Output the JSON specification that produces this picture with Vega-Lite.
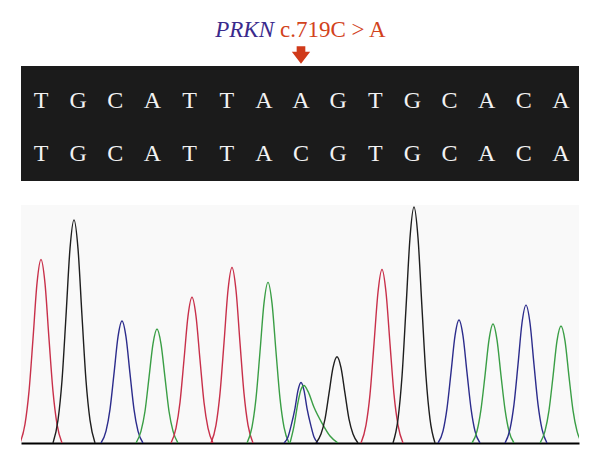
{
  "$schema": "https://vega.github.io/schema/vega-lite/v6.json",
  "padding": {"left": 21, "top": 19, "right": 21, "bottom": 10},
  "background": "white",
  "spacing": 24,
  "datasets": {
    "seq": [
      {"pos":1,"row":1,"base":"T"},{"pos":2,"row":1,"base":"G"},{"pos":3,"row":1,"base":"C"},{"pos":4,"row":1,"base":"A"},{"pos":5,"row":1,"base":"T"},{"pos":6,"row":1,"base":"T"},{"pos":7,"row":1,"base":"A"},{"pos":8,"row":1,"base":"A"},{"pos":9,"row":1,"base":"G"},{"pos":10,"row":1,"base":"T"},{"pos":11,"row":1,"base":"G"},{"pos":12,"row":1,"base":"C"},{"pos":13,"row":1,"base":"A"},{"pos":14,"row":1,"base":"C"},{"pos":15,"row":1,"base":"A"},
      {"pos":1,"row":2,"base":"T"},{"pos":2,"row":2,"base":"G"},{"pos":3,"row":2,"base":"C"},{"pos":4,"row":2,"base":"A"},{"pos":5,"row":2,"base":"T"},{"pos":6,"row":2,"base":"T"},{"pos":7,"row":2,"base":"A"},{"pos":8,"row":2,"base":"C"},{"pos":9,"row":2,"base":"G"},{"pos":10,"row":2,"base":"T"},{"pos":11,"row":2,"base":"G"},{"pos":12,"row":2,"base":"C"},{"pos":13,"row":2,"base":"A"},{"pos":14,"row":2,"base":"C"},{"pos":15,"row":2,"base":"A"}
    ],
    "trace": [
      {"peak":1,"base":"T","scan":-1,"signal":0},{"peak":1,"base":"T","scan":4,"signal":19},{"peak":1,"base":"T","scan":8,"signal":52},{"peak":1,"base":"T","scan":12,"signal":105},{"peak":1,"base":"T","scan":16,"signal":161},{"peak":1,"base":"T","scan":20,"signal":185},{"peak":1,"base":"T","scan":24,"signal":161},{"peak":1,"base":"T","scan":28,"signal":105},{"peak":1,"base":"T","scan":32,"signal":52},{"peak":1,"base":"T","scan":36,"signal":19},{"peak":1,"base":"T","scan":41,"signal":0},
      {"peak":2,"base":"G","scan":32,"signal":0},{"peak":2,"base":"G","scan":37,"signal":23},{"peak":2,"base":"G","scan":41,"signal":63},{"peak":2,"base":"G","scan":45,"signal":128},{"peak":2,"base":"G","scan":49,"signal":196},{"peak":2,"base":"G","scan":53,"signal":225},{"peak":2,"base":"G","scan":57,"signal":196},{"peak":2,"base":"G","scan":61,"signal":128},{"peak":2,"base":"G","scan":65,"signal":63},{"peak":2,"base":"G","scan":69,"signal":23},{"peak":2,"base":"G","scan":74,"signal":0},
      {"peak":3,"base":"C","scan":80,"signal":0},{"peak":3,"base":"C","scan":85,"signal":12},{"peak":3,"base":"C","scan":89,"signal":34},{"peak":3,"base":"C","scan":93,"signal":70},{"peak":3,"base":"C","scan":97,"signal":107},{"peak":3,"base":"C","scan":101,"signal":123},{"peak":3,"base":"C","scan":105,"signal":107},{"peak":3,"base":"C","scan":109,"signal":70},{"peak":3,"base":"C","scan":113,"signal":34},{"peak":3,"base":"C","scan":117,"signal":12},{"peak":3,"base":"C","scan":122,"signal":0},
      {"peak":4,"base":"A","scan":115,"signal":0},{"peak":4,"base":"A","scan":120,"signal":12},{"peak":4,"base":"A","scan":124,"signal":32},{"peak":4,"base":"A","scan":128,"signal":66},{"peak":4,"base":"A","scan":132,"signal":100},{"peak":4,"base":"A","scan":136,"signal":115},{"peak":4,"base":"A","scan":140,"signal":100},{"peak":4,"base":"A","scan":144,"signal":66},{"peak":4,"base":"A","scan":148,"signal":32},{"peak":4,"base":"A","scan":152,"signal":12},{"peak":4,"base":"A","scan":157,"signal":0},
      {"peak":5,"base":"T","scan":150,"signal":0},{"peak":5,"base":"T","scan":155,"signal":15},{"peak":5,"base":"T","scan":159,"signal":41},{"peak":5,"base":"T","scan":163,"signal":84},{"peak":5,"base":"T","scan":167,"signal":128},{"peak":5,"base":"T","scan":171,"signal":147},{"peak":5,"base":"T","scan":175,"signal":128},{"peak":5,"base":"T","scan":179,"signal":84},{"peak":5,"base":"T","scan":183,"signal":41},{"peak":5,"base":"T","scan":187,"signal":15},{"peak":5,"base":"T","scan":192,"signal":0},
      {"peak":6,"base":"T","scan":190,"signal":0},{"peak":6,"base":"T","scan":195,"signal":18},{"peak":6,"base":"T","scan":199,"signal":50},{"peak":6,"base":"T","scan":203,"signal":101},{"peak":6,"base":"T","scan":207,"signal":154},{"peak":6,"base":"T","scan":211,"signal":177},{"peak":6,"base":"T","scan":215,"signal":154},{"peak":6,"base":"T","scan":219,"signal":101},{"peak":6,"base":"T","scan":223,"signal":50},{"peak":6,"base":"T","scan":227,"signal":18},{"peak":6,"base":"T","scan":232,"signal":0},
      {"peak":7,"base":"A","scan":226,"signal":0},{"peak":7,"base":"A","scan":231,"signal":16},{"peak":7,"base":"A","scan":235,"signal":45},{"peak":7,"base":"A","scan":239,"signal":92},{"peak":7,"base":"A","scan":243,"signal":141},{"peak":7,"base":"A","scan":247,"signal":162},{"peak":7,"base":"A","scan":251,"signal":141},{"peak":7,"base":"A","scan":255,"signal":92},{"peak":7,"base":"A","scan":259,"signal":45},{"peak":7,"base":"A","scan":263,"signal":16},{"peak":7,"base":"A","scan":268,"signal":0},
      {"peak":8,"base":"C","scan":263,"signal":0},{"peak":8,"base":"C","scan":267,"signal":6},{"peak":8,"base":"C","scan":270,"signal":17},{"peak":8,"base":"C","scan":274,"signal":35},{"peak":8,"base":"C","scan":277,"signal":53},{"peak":8,"base":"C","scan":280,"signal":61},{"peak":8,"base":"C","scan":283,"signal":53},{"peak":8,"base":"C","scan":286,"signal":35},{"peak":8,"base":"C","scan":290,"signal":17},{"peak":8,"base":"C","scan":293,"signal":6},{"peak":8,"base":"C","scan":297,"signal":0},
      {"peak":9,"base":"A","scan":269,"signal":0},{"peak":9,"base":"A","scan":273,"signal":17},{"peak":9,"base":"A","scan":277,"signal":41},{"peak":9,"base":"A","scan":280,"signal":54},{"peak":9,"base":"A","scan":283,"signal":58},{"peak":9,"base":"A","scan":287,"signal":52},{"peak":9,"base":"A","scan":293,"signal":36},{"peak":9,"base":"A","scan":301,"signal":20},{"peak":9,"base":"A","scan":309,"signal":7},{"peak":9,"base":"A","scan":317,"signal":0},
      {"peak":10,"base":"G","scan":295,"signal":0},{"peak":10,"base":"G","scan":300,"signal":9},{"peak":10,"base":"G","scan":304,"signal":24},{"peak":10,"base":"G","scan":308,"signal":50},{"peak":10,"base":"G","scan":312,"signal":76},{"peak":10,"base":"G","scan":316,"signal":87},{"peak":10,"base":"G","scan":320,"signal":76},{"peak":10,"base":"G","scan":324,"signal":50},{"peak":10,"base":"G","scan":328,"signal":24},{"peak":10,"base":"G","scan":332,"signal":9},{"peak":10,"base":"G","scan":337,"signal":0},
      {"peak":11,"base":"T","scan":340,"signal":0},{"peak":11,"base":"T","scan":345,"signal":18},{"peak":11,"base":"T","scan":349,"signal":49},{"peak":11,"base":"T","scan":353,"signal":100},{"peak":11,"base":"T","scan":357,"signal":152},{"peak":11,"base":"T","scan":361,"signal":175},{"peak":11,"base":"T","scan":365,"signal":152},{"peak":11,"base":"T","scan":369,"signal":100},{"peak":11,"base":"T","scan":373,"signal":49},{"peak":11,"base":"T","scan":377,"signal":18},{"peak":11,"base":"T","scan":382,"signal":0},
      {"peak":12,"base":"G","scan":372,"signal":0},{"peak":12,"base":"G","scan":377,"signal":24},{"peak":12,"base":"G","scan":381,"signal":67},{"peak":12,"base":"G","scan":385,"signal":136},{"peak":12,"base":"G","scan":389,"signal":207},{"peak":12,"base":"G","scan":393,"signal":238},{"peak":12,"base":"G","scan":397,"signal":207},{"peak":12,"base":"G","scan":401,"signal":136},{"peak":12,"base":"G","scan":405,"signal":67},{"peak":12,"base":"G","scan":409,"signal":24},{"peak":12,"base":"G","scan":414,"signal":0},
      {"peak":13,"base":"C","scan":417,"signal":0},{"peak":13,"base":"C","scan":422,"signal":12},{"peak":13,"base":"C","scan":426,"signal":35},{"peak":13,"base":"C","scan":430,"signal":71},{"peak":13,"base":"C","scan":434,"signal":108},{"peak":13,"base":"C","scan":438,"signal":124},{"peak":13,"base":"C","scan":442,"signal":108},{"peak":13,"base":"C","scan":446,"signal":71},{"peak":13,"base":"C","scan":450,"signal":35},{"peak":13,"base":"C","scan":454,"signal":12},{"peak":13,"base":"C","scan":459,"signal":0},
      {"peak":14,"base":"A","scan":451,"signal":0},{"peak":14,"base":"A","scan":456,"signal":12},{"peak":14,"base":"A","scan":460,"signal":34},{"peak":14,"base":"A","scan":464,"signal":68},{"peak":14,"base":"A","scan":468,"signal":104},{"peak":14,"base":"A","scan":472,"signal":120},{"peak":14,"base":"A","scan":476,"signal":104},{"peak":14,"base":"A","scan":480,"signal":68},{"peak":14,"base":"A","scan":484,"signal":34},{"peak":14,"base":"A","scan":488,"signal":12},{"peak":14,"base":"A","scan":493,"signal":0},
      {"peak":15,"base":"C","scan":484,"signal":0},{"peak":15,"base":"C","scan":489,"signal":14},{"peak":15,"base":"C","scan":493,"signal":39},{"peak":15,"base":"C","scan":497,"signal":79},{"peak":15,"base":"C","scan":501,"signal":121},{"peak":15,"base":"C","scan":505,"signal":139},{"peak":15,"base":"C","scan":509,"signal":121},{"peak":15,"base":"C","scan":513,"signal":79},{"peak":15,"base":"C","scan":517,"signal":39},{"peak":15,"base":"C","scan":521,"signal":14},{"peak":15,"base":"C","scan":526,"signal":0},
      {"peak":16,"base":"A","scan":519,"signal":0},{"peak":16,"base":"A","scan":524,"signal":12},{"peak":16,"base":"A","scan":528,"signal":33},{"peak":16,"base":"A","scan":532,"signal":67},{"peak":16,"base":"A","scan":536,"signal":103},{"peak":16,"base":"A","scan":540,"signal":118},{"peak":16,"base":"A","scan":544,"signal":103},{"peak":16,"base":"A","scan":548,"signal":67},{"peak":16,"base":"A","scan":552,"signal":33},{"peak":16,"base":"A","scan":556,"signal":12},{"peak":16,"base":"A","scan":561,"signal":0}
    ]
  },
  "vconcat": [
    {
      "width": 558,
      "height": 115,
      "view": {"fill": "#1b1b1b", "stroke": null},
      "layer": [
        {
          "data": {"name": "seq"},
          "mark": {"type": "text", "font": "Liberation Serif", "fontSize": 24, "fill": "#f2f2f2", "baseline": "middle", "align": "center"},
          "encoding": {
            "x": {"field": "pos", "type": "quantitative", "scale": {"domain": [0.4615, 15.485]}, "axis": null},
            "y": {"field": "row", "type": "quantitative", "scale": {"domain": [0.355, 2.505], "reverse": true}, "axis": null},
            "text": {"field": "base"}
          }
        },
        {
          "data": {"values": [{"pos": 8, "change": "C>A"}]},
          "mark": {"type": "point", "shape": "M-0.5,-1L0.5,-1L0.5,-0.375L1.06,-0.375L0,1L-1.06,-0.375L-0.5,-0.375Z", "size": 300, "filled": true, "fill": "#d03a1a", "stroke": null, "opacity": 1},
          "encoding": {
            "x": {"field": "pos", "type": "quantitative", "scale": {"domain": [0.4615, 15.485]}, "axis": null},
            "y": {"datum": 0.149, "type": "quantitative", "scale": {"domain": [0.355, 2.505], "reverse": true}, "axis": null}
          }
        },
        {
          "data": {"values": [{"gene": "PRKN", "variant": "c.719C > A"}]},
          "mark": {"type": "text", "font": "Liberation Serif", "fontSize": 23, "fontStyle": "italic", "fill": "#3a2a8c", "align": "right", "baseline": "alphabetic"},
          "encoding": {
            "x": {"datum": 7.273, "type": "quantitative", "scale": {"domain": [0.4615, 15.485]}, "axis": null},
            "y": {"datum": -0.187, "type": "quantitative", "scale": {"domain": [0.355, 2.505], "reverse": true}, "axis": null},
            "text": {"field": "gene"}
          }
        },
        {
          "data": {"values": [{"gene": "PRKN", "variant": "c.719C > A"}]},
          "mark": {"type": "text", "font": "Liberation Serif", "fontSize": 23, "fill": "#d2431c", "align": "left", "baseline": "alphabetic"},
          "encoding": {
            "x": {"datum": 7.435, "type": "quantitative", "scale": {"domain": [0.4615, 15.485]}, "axis": null},
            "y": {"datum": -0.187, "type": "quantitative", "scale": {"domain": [0.355, 2.505], "reverse": true}, "axis": null},
            "text": {"field": "variant"}
          }
        }
      ]
    },
    {
      "width": 558,
      "height": 238,
      "view": {"fill": "#f9f9f9", "stroke": null},
      "data": {"name": "trace"},
      "mark": {"type": "line", "interpolate": "monotone", "strokeWidth": 1.4, "clip": true},
      "encoding": {
        "x": {"field": "scan", "type": "quantitative", "scale": {"domain": [0, 558], "nice": false, "zero": false}, "axis": {"domainColor": "#000000", "domainWidth": 2, "ticks": false, "labels": false, "title": null, "grid": false}},
        "y": {"field": "signal", "type": "quantitative", "scale": {"domain": [0, 240], "nice": false}, "axis": null},
        "color": {"field": "base", "type": "nominal", "scale": {"domain": ["A", "C", "G", "T"], "range": ["#3a9e45", "#2c2c8c", "#1e1e1e", "#c8304a"]}, "legend": null},
        "detail": {"field": "peak", "type": "nominal"}
      }
    }
  ]
}
